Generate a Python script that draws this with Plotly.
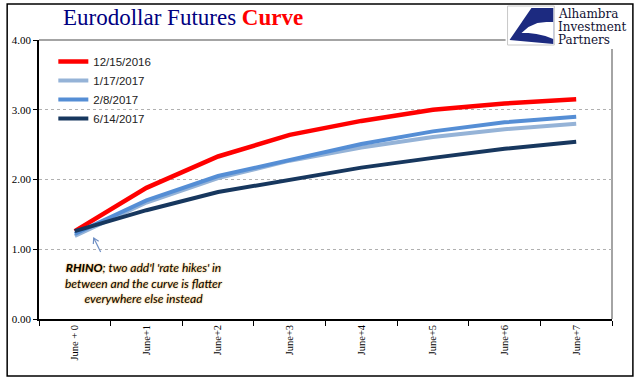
import plotly.graph_objects as go

categories = ["June + 0", "June+1", "June+2", "June+3", "June+4", "June+5", "June+6", "June+7"]
s_dec15_2016 = [1.26, 1.88, 2.33, 2.64, 2.84, 3.00, 3.09, 3.15]
s_jan17_2017 = [1.19, 1.67, 2.02, 2.27, 2.46, 2.61, 2.72, 2.80]
s_feb08_2017 = [1.22, 1.70, 2.05, 2.28, 2.51, 2.69, 2.82, 2.90]
s_jun14_2017 = [1.26, 1.56, 1.82, 2.00, 2.17, 2.31, 2.44, 2.54]
series_names = ["12/15/2016", "1/17/2017", "2/8/2017", "6/14/2017"]
series_colors = ["#ff0000", "#95b3d7", "#558ed5", "#17375e"]
y_ticks = [0, 1, 2, 3, 4]
logo_lines = ["Alhambra", "Investment", "Partners"]

W, H = 641, 381
L, R, T, B = 36, 29, 40, 62
PW, PH = W - L - R, H - T - B


def px(x):
    return (x - L) / PW


def py(y):
    return (H - B - y) / PH


def path(pts, close=True):
    s = "M " + " L ".join(f"{px(a):.5f},{py(b):.5f}" for a, b in pts)
    return s + (" Z" if close else "")


fig = go.Figure()
for name, vals, col, w in zip(series_names,
                              [s_dec15_2016, s_jan17_2017, s_feb08_2017, s_jun14_2017],
                              series_colors, [4.5, 4, 4, 4]):
    fig.add_trace(go.Scatter(x=categories, y=vals, name=name, mode="lines",
                             line=dict(color=col, width=w)))

shapes = []
# outer frame
shapes.append(dict(type="rect", xref="paper", yref="paper",
                   x0=px(4), x1=px(633), y0=py(376), y1=py(4),
                   line=dict(color="black", width=1.5), fillcolor="rgba(0,0,0,0)",
                   layer="below"))
# plot-area border (top and right), gray
shapes.append(dict(type="line", xref="paper", yref="paper", x0=0, x1=1, y0=1, y1=1,
                   line=dict(color="#868686", width=1.5), layer="below"))
shapes.append(dict(type="line", xref="paper", yref="paper", x0=1, x1=1, y0=0, y1=1,
                   line=dict(color="#868686", width=1.5), layer="below"))
# logo white background
shapes.append(dict(type="rect", xref="paper", yref="paper",
                   x0=px(505), x1=px(632), y0=py(49), y1=py(5),
                   line=dict(width=0), fillcolor="white", layer="above"))
# logo icon frame
shapes.append(dict(type="rect", xref="paper", yref="paper",
                   x0=px(507), x1=px(554), y0=py(45), y1=py(6),
                   line=dict(color="#c8c8c8", width=1), fillcolor="white", layer="above"))
# logo navy wedge
shapes.append(dict(type="path", xref="paper", yref="paper",
                   path=path([(553, 8), (531, 8), (509, 40), (553, 44)]),
                   line=dict(width=0), fillcolor="#1c2a80", layer="above"))
# logo white curved cut
shapes.append(dict(type="path", xref="paper", yref="paper",
                   path=path([(521, 33), (528, 27), (537, 23), (546, 22), (553, 22),
                              (553, 39), (545, 36), (536, 34), (528, 33)]),
                   line=dict(width=0), fillcolor="white", layer="above"))
# arrow
tail, head = (98, 252), (91, 238)
shapes.append(dict(type="path", xref="paper", yref="paper",
                   path=path([tail, head], close=False),
                   line=dict(color="#6f8fc4", width=1.2), layer="above"))
shapes.append(dict(type="path", xref="paper", yref="paper",
                   path=path([(90.6, 244), head, (96, 241.3)], close=False),
                   line=dict(color="#6f8fc4", width=1.2), layer="above"))

annotations = [
    dict(xref="paper", yref="paper", x=px(181), y=py(17), xanchor="center", yanchor="middle",
         showarrow=False,
         text="<span style='color:#000080'>Eurodollar Futures </span>"
              "<b style='color:#ff0000'>Curve</b>",
         font=dict(family="Liberation Serif", size=23)),
    dict(xref="paper", yref="paper", x=px(142), y=py(283), xanchor="center", yanchor="middle",
         showarrow=False, align="center",
         text="<b>RHINO</b>; two add'l 'rate hikes' in<br>between and the curve is flatter"
              "<br>everywhere else instead",
         font=dict(family="Lato", size=12, color="black", style="italic",
                   shadow="0px 0px 2px #f0a020")),
]
for i, t in enumerate(logo_lines):
    annotations.append(dict(xref="paper", yref="paper", x=px(556), y=py(14 + 13 * i),
                            xanchor="left", yanchor="middle", showarrow=False, text=t,
                            font=dict(family="DejaVu Serif", size=12, color="#111133")))

fig.update_layout(
    width=W, height=H,
    margin=dict(l=L, r=R, t=T, b=B),
    paper_bgcolor="white", plot_bgcolor="white",
    shapes=shapes, annotations=annotations,
    showlegend=True,
    legend=dict(x=0.025, y=0.975, xanchor="left", yanchor="top",
                font=dict(family="Liberation Sans", size=11.5, color="#222"),
                bgcolor="rgba(0,0,0,0)", tracegroupgap=0, itemwidth=30),
    xaxis=dict(type="category", range=[-0.5, 7.5], showline=True, linecolor="black",
               linewidth=1.5, ticks="outside", tickson="boundaries", ticklen=5,
               tickcolor="black", showgrid=False, tickangle=-90,
               tickfont=dict(family="Liberation Serif", size=10.5, color="black")),
    yaxis=dict(range=[0, 4], tickvals=y_ticks, tickformat=".2f", showline=True,
               linecolor="black", linewidth=1.5, ticks="outside", ticklen=4,
               tickcolor="black", showgrid=True, gridcolor="#b0b0b0", griddash="dot",
               gridwidth=1, zeroline=False,
               tickfont=dict(family="Liberation Serif", size=11, color="black")),
)

fig.write_html("out.html", config={"displayModeBar": False},
               post_script="document.body.style.margin='0';document.body.style.overflow='hidden';")
